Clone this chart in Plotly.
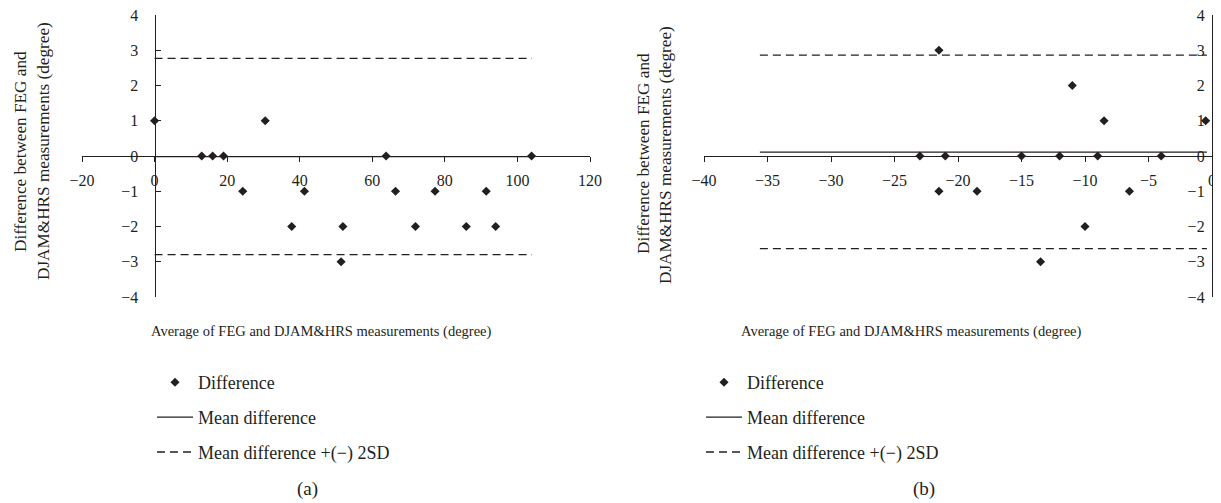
import plotly.graph_objects as go

# ---------------- data ----------------
# Panel (a)
a_avg = [0, 13, 16, 19, 24.3, 30.5, 37.8, 41.3, 51.4, 51.9, 63.8, 66.4, 71.9, 77.3, 85.9, 91.4, 94.0, 103.9]
a_diff = [1, 0, 0, 0, -1, 1, -2, -1, -3, -2, 0, -1, -2, -1, -2, -1, -2, 0]
a_line_x = [0, 104]
a_mean = -0.02
a_upper = 2.77
a_lower = -2.80

# Panel (b)
b_avg = [-23.0, -21.5, -21.5, -21.0, -18.5, -15.0, -13.5, -12.0, -11.0, -10.0, -9.0, -8.5, -6.5, -4.0, -0.5]
b_diff = [0, 3, -1, 0, -1, 0, -3, 0, 2, -2, 0, 1, -1, 0, 1]
b_line_x = [-35.6, -0.4]
b_mean = 0.11
b_upper = 2.86
b_lower = -2.63

a_xticks = [-20, 0, 20, 40, 60, 80, 100, 120]
b_xticks = [-40, -35, -30, -25, -20, -15, -10, -5, 0]
yticks = [-4, -3, -2, -1, 0, 1, 2, 3, 4]

y_title_1 = "Difference between FEG and"
y_title_2 = "DJAM&HRS measurements (degree)"
x_title = "Average of FEG and DJAM&HRS measurements (degree)"
names = ["Difference", "Mean difference", "Mean difference +(\u2212) 2SD"]

# ---------------- layout constants ----------------
# The page places the figure 8px from the top-left corner (default body margin)
OFF = 8
W, H = 1221 - OFF, 503 - OFF
FONT = "Liberation Serif, Times New Roman, serif"
INK = "#231f20"

def px_x(p):
    return (p - OFF) / W

def px_y(p):
    return 1 - (p - OFF) / H

ydom = [px_y(297), px_y(15)]
a_dom = [px_x(82), px_x(590)]
b_dom = [px_x(704), px_x(1212)]
a_xr = [-20, 120]
b_xr = [-40, 0]
yr = [-4, 4]

def frac(v, r, dom):
    return dom[0] + (v - r[0]) / (r[1] - r[0]) * (dom[1] - dom[0])

y0_paper = frac(0, yr, ydom)

fig = go.Figure()

line_w = 1.3
dash = "8px,5px"

def add_panel(avg, diff, lx, mean, up, lo, xa, ya, leg):
    fig.add_trace(go.Scatter(
        x=avg, y=diff, mode="markers", name=names[0],
        marker=dict(symbol="diamond", size=7, color=INK),
        xaxis=xa, yaxis=ya, legend=leg, legendgroup=leg + "g1", showlegend=True))
    fig.add_trace(go.Scatter(
        x=lx, y=[mean, mean], mode="lines", name=names[1],
        line=dict(color=INK, width=line_w),
        xaxis=xa, yaxis=ya, legend=leg, legendgroup=leg + "g2"))
    fig.add_trace(go.Scatter(
        x=lx, y=[up, up], mode="lines", name=names[2],
        line=dict(color=INK, width=line_w, dash=dash),
        xaxis=xa, yaxis=ya, legend=leg, legendgroup=leg + "g3"))
    fig.add_trace(go.Scatter(
        x=lx, y=[lo, lo], mode="lines", name=names[2],
        line=dict(color=INK, width=line_w, dash=dash),
        xaxis=xa, yaxis=ya, legend=leg, legendgroup=leg + "g3", showlegend=False))

add_panel(a_avg, a_diff, a_line_x, a_mean, a_upper, a_lower, "x", "y", "legend")
add_panel(b_avg, b_diff, b_line_x, b_mean, b_upper, b_lower, "x2", "y2", "legend2")

tickfont = dict(family=FONT, size=16, color=INK)

xcommon = dict(showgrid=False, zeroline=False, showline=True, linecolor=INK, linewidth=line_w,
               ticks="outside", ticklen=5, tickwidth=line_w, tickcolor=INK, tickfont=tickfont,
               anchor="free", position=y0_paper, ticklabelstandoff=5, automargin=False,
               ticklabeloverflow="allow")
ycommon = dict(showgrid=False, zeroline=False, showline=True, linecolor=INK, linewidth=line_w,
               ticks="inside", ticklen=5, tickwidth=line_w, tickcolor=INK, tickfont=tickfont,
               range=yr, tickvals=yticks, domain=ydom, anchor="free", side="left",
               automargin=False, ticklabeloverflow="allow")

legcommon = dict(xanchor="left", yanchor="top",
                 font=dict(family=FONT, size=18, color=INK), tracegroupgap=8.5,
                 bgcolor="rgba(0,0,0,0)", itemwidth=36, traceorder="grouped")

fig.update_layout(
    width=W, height=H,
    margin=dict(l=0, r=0, t=0, b=0, autoexpand=False),
    paper_bgcolor="white", plot_bgcolor="rgba(0,0,0,0)",
    font=dict(family=FONT, size=15, color=INK),
    xaxis=dict(range=a_xr, tickvals=a_xticks, domain=a_dom, **xcommon),
    yaxis=dict(position=frac(0, a_xr, a_dom), ticklabelstandoff=13, **ycommon),
    xaxis2=dict(range=b_xr, tickvals=b_xticks, domain=b_dom, **xcommon),
    yaxis2=dict(position=frac(0, b_xr, b_dom), ticklabelstandoff=4, **ycommon),
    legend=dict(x=px_x(152), y=px_y(364), **legcommon),
    legend2=dict(x=px_x(701), y=px_y(364), **legcommon),
    showlegend=True,
)

def note(x, y, text, angle=0, size=15):
    return dict(x=px_x(x), y=px_y(y), text=text, textangle=angle, showarrow=False,
                xref="paper", yref="paper", xanchor="center", yanchor="middle",
                font=dict(family=FONT, size=size, color=INK))

ann = [
    note(20, 152, y_title_1, -90, 17.2),
    note(43, 151, y_title_2, -90, 17.2),
    note(643, 154, y_title_1, -90, 17.2),
    note(665, 155, y_title_2, -90, 17.2),
    note(321, 331, x_title, 0, 14.5),
    note(911, 331, x_title, 0, 14.5),
    note(307, 489, "(a)", 0, 19),
    note(924, 489, "(b)", 0, 19),
]
fig.update_layout(annotations=ann)

fig.write_html("out.html")
